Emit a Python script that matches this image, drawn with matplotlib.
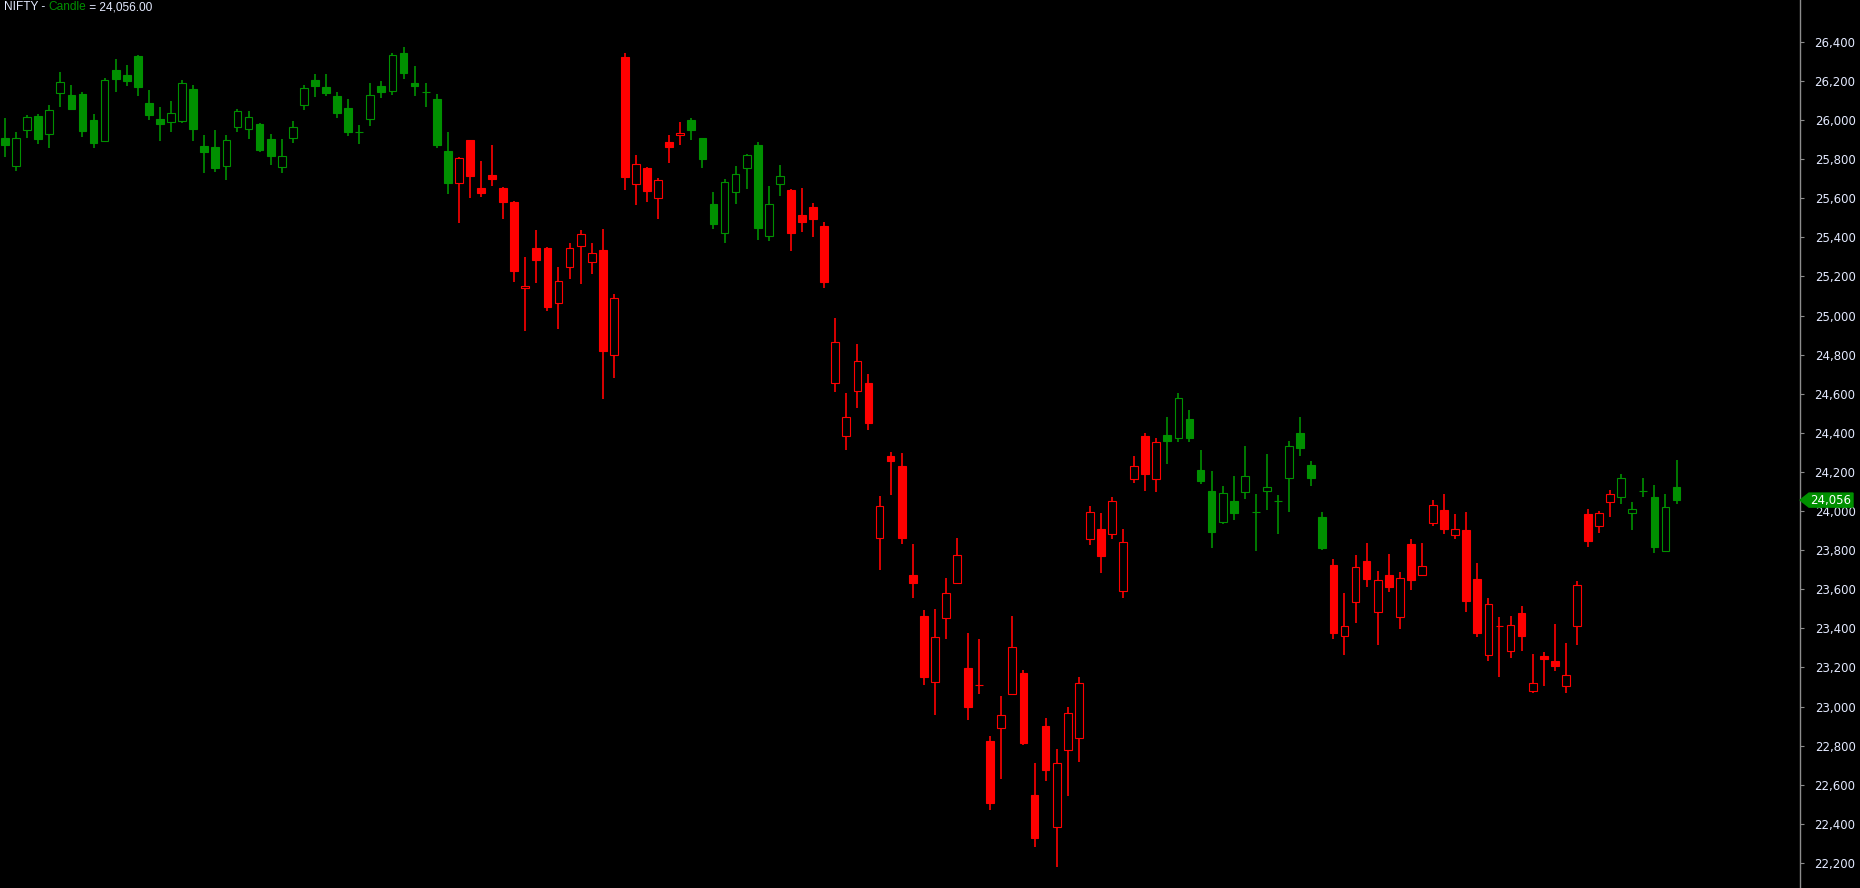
import matplotlib
matplotlib.use('Agg')
import matplotlib.pyplot as plt
from matplotlib.patches import Rectangle, Polygon
import matplotlib.transforms as mtransforms

# daily OHLC, oldest first
opens = [25908, 25767, 25948, 26021, 25931, 26137, 26128, 26133, 26000, 25895,
         26256, 26231, 26328, 26087, 26006, 25989, 25997, 26159, 25868, 25862,
         25767, 25966, 25956, 25980, 25903, 25762, 25910, 26079, 26205, 26169,
         26123, 26062, 25937, 26007, 26174, 26150, 26343, 26190, 26142, 26108,
         25842, 25677, 25898, 25653, 25719, 25653, 25581, 25139, 25346, 25346,
         25063, 25247, 25355, 25272, 25336, 24797, 26323, 25671, 25755, 25603,
         25888, 25922, 26001, 25908, 25571, 25421, 25634, 25753, 25873, 25406,
         25675, 25642, 25515, 25556, 25458, 24656, 24386, 24612, 24653, 23864,
         24282, 24231, 23674, 23464, 23125, 23455, 23630, 23197, 23112, 22824,
         22889, 23062, 23173, 22548, 22901, 22382, 22776, 22838, 23856, 23907,
         23881, 23590, 24162, 24384, 24162, 24389, 24372, 24471, 24210, 24103,
         23943, 24052, 24096, 23994, 24101, 24053, 24168, 24400, 24236, 23970,
         23724, 23360, 23533, 23745, 23482, 23673, 23457, 23832, 23672, 23938,
         24006, 23876, 23903, 23653, 23262, 23411, 23283, 23479, 23078, 23257,
         23233, 23104, 23411, 23985, 23922, 24045, 24070, 23989, 24105, 24072,
         23794, 24123]
highs = [26011, 25939, 26026, 26031, 26077, 26246, 26180, 26144, 26031, 26215,
         26312, 26282, 26335, 26154, 26067, 26098, 26205, 26180, 25924, 25949,
         25924, 26057, 26047, 25985, 25929, 25903, 25995, 26180, 26236, 26236,
         26144, 26108, 25975, 26190, 26200, 26343, 26374, 26277, 26190, 26133,
         25939, 25811, 25900, 25791, 25873, 25655, 25585, 25300, 25438, 25351,
         25249, 25371, 25438, 25371, 25443, 25110, 26343, 25822, 25760, 25704,
         25924, 25990, 26011, 25910, 25632, 25699, 25765, 25827, 25888, 25663,
         25770, 25645, 25653, 25576, 25479, 24988, 24605, 24855, 24701, 24078,
         24303, 24297, 23833, 23493, 23499, 23657, 23862, 23377, 23346, 22850,
         23055, 23464, 23187, 22711, 22942, 22783, 22998, 23151, 24026, 23990,
         24072, 23908, 24282, 24399, 24374, 24481, 24604, 24517, 24313, 24205,
         24128, 24180, 24333, 24088, 24292, 24082, 24359, 24481, 24256, 23995,
         23755, 23581, 23776, 23837, 23694, 23781, 23689, 23857, 23837, 24057,
         24088, 23985, 23995, 23735, 23556, 23458, 23464, 23515, 23269, 23279,
         23423, 23325, 23643, 24011, 24001, 24108, 24190, 24047, 24169, 24134,
         24088, 24261]
lows = [25813, 25741, 25910, 25879, 25859, 26069, 26053, 25915, 25859, 25890,
        26145, 26176, 26125, 26002, 25895, 25941, 25987, 25895, 25731, 25736,
        25695, 25941, 25905, 25838, 25772, 25731, 25885, 26053, 26120, 26125,
        26012, 25920, 25879, 25972, 26115, 26130, 26212, 26125, 26069, 25859,
        25624, 25475, 25603, 25608, 25665, 25496, 25174, 24923, 25168, 25025,
        24933, 25189, 25163, 25215, 24575, 24683, 25644, 25567, 25583, 25496,
        25782, 25874, 25900, 25757, 25445, 25373, 25573, 25649, 25388, 25383,
        25613, 25332, 25429, 25404, 25143, 24607, 24310, 24529, 24417, 23700,
        24083, 23834, 23556, 23112, 22959, 23348, 23628, 22933, 23066, 22472,
        22627, 23060, 22804, 22284, 22621, 22181, 22544, 22718, 23828, 23685,
        23859, 23557, 24145, 24105, 24099, 24243, 24355, 24355, 24140, 23813,
        23936, 23956, 24064, 23798, 24007, 23885, 23997, 24284, 24130, 23803,
        23348, 23266, 23429, 23614, 23317, 23588, 23399, 23598, 23670, 23926,
        23885, 23859, 23486, 23358, 23235, 23153, 23250, 23286, 23071, 23107,
        23184, 23071, 23317, 23818, 23890, 23972, 24038, 23905, 24074, 23787,
        23794, 24038]
closes = [25874, 25907, 26014, 25905, 26050, 26193, 26057, 25946, 25885, 26203,
          26212, 26202, 26171, 26028, 25982, 26035, 26188, 25956, 25838, 25757,
          25898, 26047, 26014, 25849, 25818, 25816, 25963, 26162, 26176, 26140,
          26038, 25941, 25937, 26128, 26145, 26333, 26243, 26176, 26142, 25874,
          25680, 25806, 25716, 25629, 25700, 25583, 25230, 25153, 25286, 25046,
          25175, 25344, 25417, 25318, 24821, 25088, 25711, 25775, 25639, 25694,
          25864, 25934, 25951, 25803, 25470, 25683, 25724, 25822, 25450, 25571,
          25714, 25424, 25481, 25496, 25174, 24863, 24479, 24765, 24448, 24024,
          24258, 23864, 23634, 23149, 23355, 23580, 23774, 23000, 23112, 22509,
          22955, 23304, 22815, 22330, 22677, 22710, 22966, 23119, 23994, 23772,
          24050, 23840, 24229, 24191, 24352, 24360, 24577, 24376, 24156, 23895,
          24091, 23992, 24180, 23994, 24122, 24053, 24331, 24325, 24171, 23813,
          23378, 23411, 23712, 23654, 23646, 23614, 23656, 23649, 23718, 24030,
          23910, 23907, 23542, 23378, 23523, 23411, 23416, 23363, 23119, 23242,
          23210, 23160, 23620, 23849, 23989, 24086, 24168, 24009, 24105, 23818,
          24019, 24056]
# trend colour of each bar: g = green, r = red
trend = ('g' * 41 + 'r' * 21 + 'g' * 9 + 'r' * 34 + 'g' * 15 + 'r' * 26 + 'g' * 6)

y_ticks = list(range(22200, 26401, 200))
symbol = 'NIFTY'
last_close = 24056.00

GREEN = '#009000'
RED = '#ff0000'
BG = '#000000'
TXT = '#e4eaff'

fig = plt.figure(figsize=(18.6, 8.88), dpi=100, facecolor=BG)
ax = fig.add_axes([0, 0, 1800 / 1860, 1])
ax.set_facecolor(BG)
ax.set_xlim(-0.45, 162.15)
ax.set_ylim(22072, 26614)

w = 0.7
for i in range(len(opens)):
    o, h, l, c = opens[i], highs[i], lows[i], closes[i]
    col = GREEN if trend[i] == 'g' else RED
    ax.vlines(i, l, h, color=col, lw=1.2, zorder=2)
    filled = c < o
    ax.add_patch(Rectangle((i - w / 2, min(o, c)), w, abs(c - o),
                           facecolor=col if filled else BG, edgecolor=col,
                           lw=0.8, zorder=3))

for s in ['top', 'left', 'bottom']:
    ax.spines[s].set_visible(False)
ax.spines['right'].set_color('#8c8c8c')
ax.spines['right'].set_linewidth(1)
ax.set_xticks([])
ax.yaxis.tick_right()
ax.set_yticks(y_ticks)
ax.set_yticklabels([f'{v:,}' for v in y_ticks])
ax.tick_params(axis='y', direction='out', length=3, width=0.8, color='#8c8c8c',
               labelcolor=TXT, labelsize=8.5, pad=37)
for lab in ax.get_yticklabels():
    lab.set_horizontalalignment('right')

# last price marker on the axis
tr = mtransforms.blended_transform_factory(ax.transAxes, ax.transData)
hh = 36
x0, x1, x2 = 1.0, 1 + 9 / 1800, 1 + 53 / 1800
ax.add_patch(Polygon([(x0, last_close), (x1, last_close + hh), (x2, last_close + hh),
                      (x2, last_close - hh), (x1, last_close - hh)],
                     closed=True, transform=tr, facecolor=GREEN, edgecolor=GREEN,
                     clip_on=False, zorder=5))
ax.text(1 + 31 / 1800, last_close, f'{last_close:,.0f}', transform=tr, color='white',
        fontsize=8.5, ha='center', va='center', clip_on=False, zorder=6)

# title pieces
renderer = fig.canvas.get_renderer()
xpos = 4
for txt, col in [(f'{symbol} - ', TXT), ('Candle', GREEN), (f' = {last_close:,.2f}', TXT)]:
    t = fig.text(xpos / 1860, 1 - 7 / 888, txt, color=col, fontsize=8.6,
                 family='Liberation Sans', ha='left', va='center')
    xpos += t.get_window_extent(renderer).width

fig.savefig('out.png', dpi=100, facecolor=BG)
